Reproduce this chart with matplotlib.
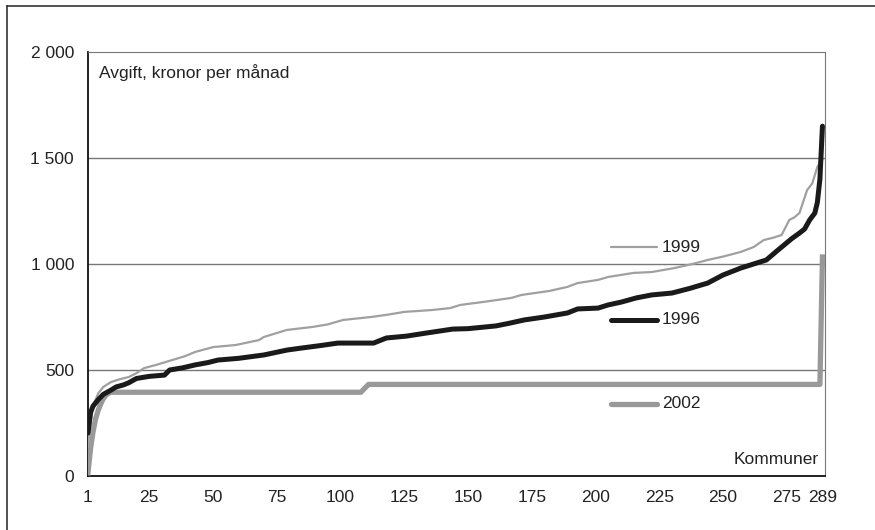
import numpy as np
import matplotlib
matplotlib.use("Agg")
import matplotlib.pyplot as plt
from matplotlib.lines import Line2D

plt.rcParams['font.family'] = ['Liberation Sans Narrow', 'Liberation Sans', 'DejaVu Sans']

# Fees (kronor per month) per municipality, sorted
rank_1996 = [1, 2, 3, 5, 7, 10, 12, 15, 17, 20, 25, 31, 33, 38, 43, 48, 52, 60,
             70, 79, 85, 92, 99, 105, 113, 118, 126, 134, 144, 150, 161, 166,
             172, 180, 189, 193, 201, 205, 210, 216, 222, 230, 237, 244, 250,
             257, 262, 267, 271, 274, 277, 280, 282, 284, 286, 287, 288, 289]
fee_1996 = [203, 300, 330, 360, 385, 405, 420, 430, 440, 460, 470, 476, 500,
            510, 524, 535, 547, 555, 571, 594, 604, 615, 627, 627, 627, 651,
            660, 675, 693, 695, 708, 720, 736, 750, 769, 788, 792, 807, 820,
            840, 854, 863, 885, 910, 948, 981, 1000, 1019, 1060, 1090, 1120,
            1146, 1165, 1208, 1240, 1290, 1400, 1650]

rank_1999 = [1, 2, 3, 5, 7, 10, 13, 17, 20, 23, 28, 34, 39, 43, 50, 59, 68, 70,
             79, 89, 95, 101, 112, 118, 125, 136, 143, 147, 156, 167, 171, 182,
             189, 193, 201, 205, 215, 222, 231, 238, 244, 250, 257, 262, 266,
             270, 273, 276, 278, 280, 283, 285, 287, 289]
fee_1999 = [137, 250, 330, 390, 420, 443, 455, 467, 485, 509, 525, 547, 565,
            585, 608, 618, 641, 656, 689, 703, 715, 736, 750, 760, 774, 783,
            792, 807, 821, 840, 854, 873, 892, 910, 925, 939, 958, 962, 981,
            1000, 1019, 1035, 1057, 1080, 1113, 1125, 1137, 1208, 1220, 1241,
            1349, 1380, 1458, 1495]

rank_2002 = [1, 2, 3, 4, 5, 6, 7, 8, 9, 10, 108, 111, 288, 289]
fee_2002 = [15, 130, 210, 270, 310, 340, 365, 380, 390, 395, 395, 432, 432, 1033]

labels = ['1996', '1999', '2002']
label_y = [736, 1080, 340]

c96 = '#1a1a1a'
c99 = '#a0a0a0'
c02 = '#999999'

fig = plt.figure(figsize=(8.75, 5.3), dpi=100)
ax = fig.add_axes([88 / 875, 1 - 476 / 530, (825 - 88) / 875, (476 - 52) / 530])

# outer frame (top and left only)
fig.add_artist(Line2D([7 / 875, 7 / 875], [0, 1 - 6 / 530], color='#333333', lw=1.2))
fig.add_artist(Line2D([7 / 875, 1], [1 - 6 / 530, 1 - 6 / 530], color='#333333', lw=1.2))

ax.plot(rank_2002, fee_2002, color=c02, lw=3.8, solid_joinstyle='round', zorder=3)
ax.plot(rank_1999, fee_1999, color=c99, lw=1.6, zorder=4)
ax.plot(rank_1996, fee_1996, color=c96, lw=3.6, solid_capstyle='round', zorder=5)

ax.set_xlim(1, 290)
ax.set_ylim(0, 2000)
ax.set_xticks([1, 25, 50, 75, 100, 125, 150, 175, 200, 225, 250, 275, 289])
ax.set_yticks([0, 500, 1000, 1500, 2000])
ax.set_yticklabels(['0', '500', '1 000', '1 500', '2 000'])
ax.tick_params(length=0, labelsize=12.5, pad=10, colors='#222222')

for v in [500, 1000, 1500]:
    ax.axhline(v, color='#777777', lw=1.0, zorder=1)

ax.spines['left'].set_color('#111111')
ax.spines['bottom'].set_color('#111111')
ax.spines['left'].set_linewidth(1.3)
ax.spines['bottom'].set_linewidth(1.3)
ax.spines['top'].set_color('#777777')
ax.spines['right'].set_color('#777777')

# inline legend
colors = [c96, c99, c02]
widths = [3.6, 1.6, 3.8]
for lab, yy, c, w in zip(labels, label_y, colors, widths):
    ax.plot([206, 224], [yy, yy], color=c, lw=w, solid_capstyle='round')
    ax.text(226, yy, lab, fontsize=12.5, va='center', ha='left', color='#222222')

ax.text(5.5, 1905, 'Avgift, kronor per månad', fontsize=12.5, va='center', ha='left', color='#222222')
ax.text(287.5, 80, 'Kommuner', fontsize=12.5, va='center', ha='right', color='#222222')

fig.savefig('out.png', dpi=100)
